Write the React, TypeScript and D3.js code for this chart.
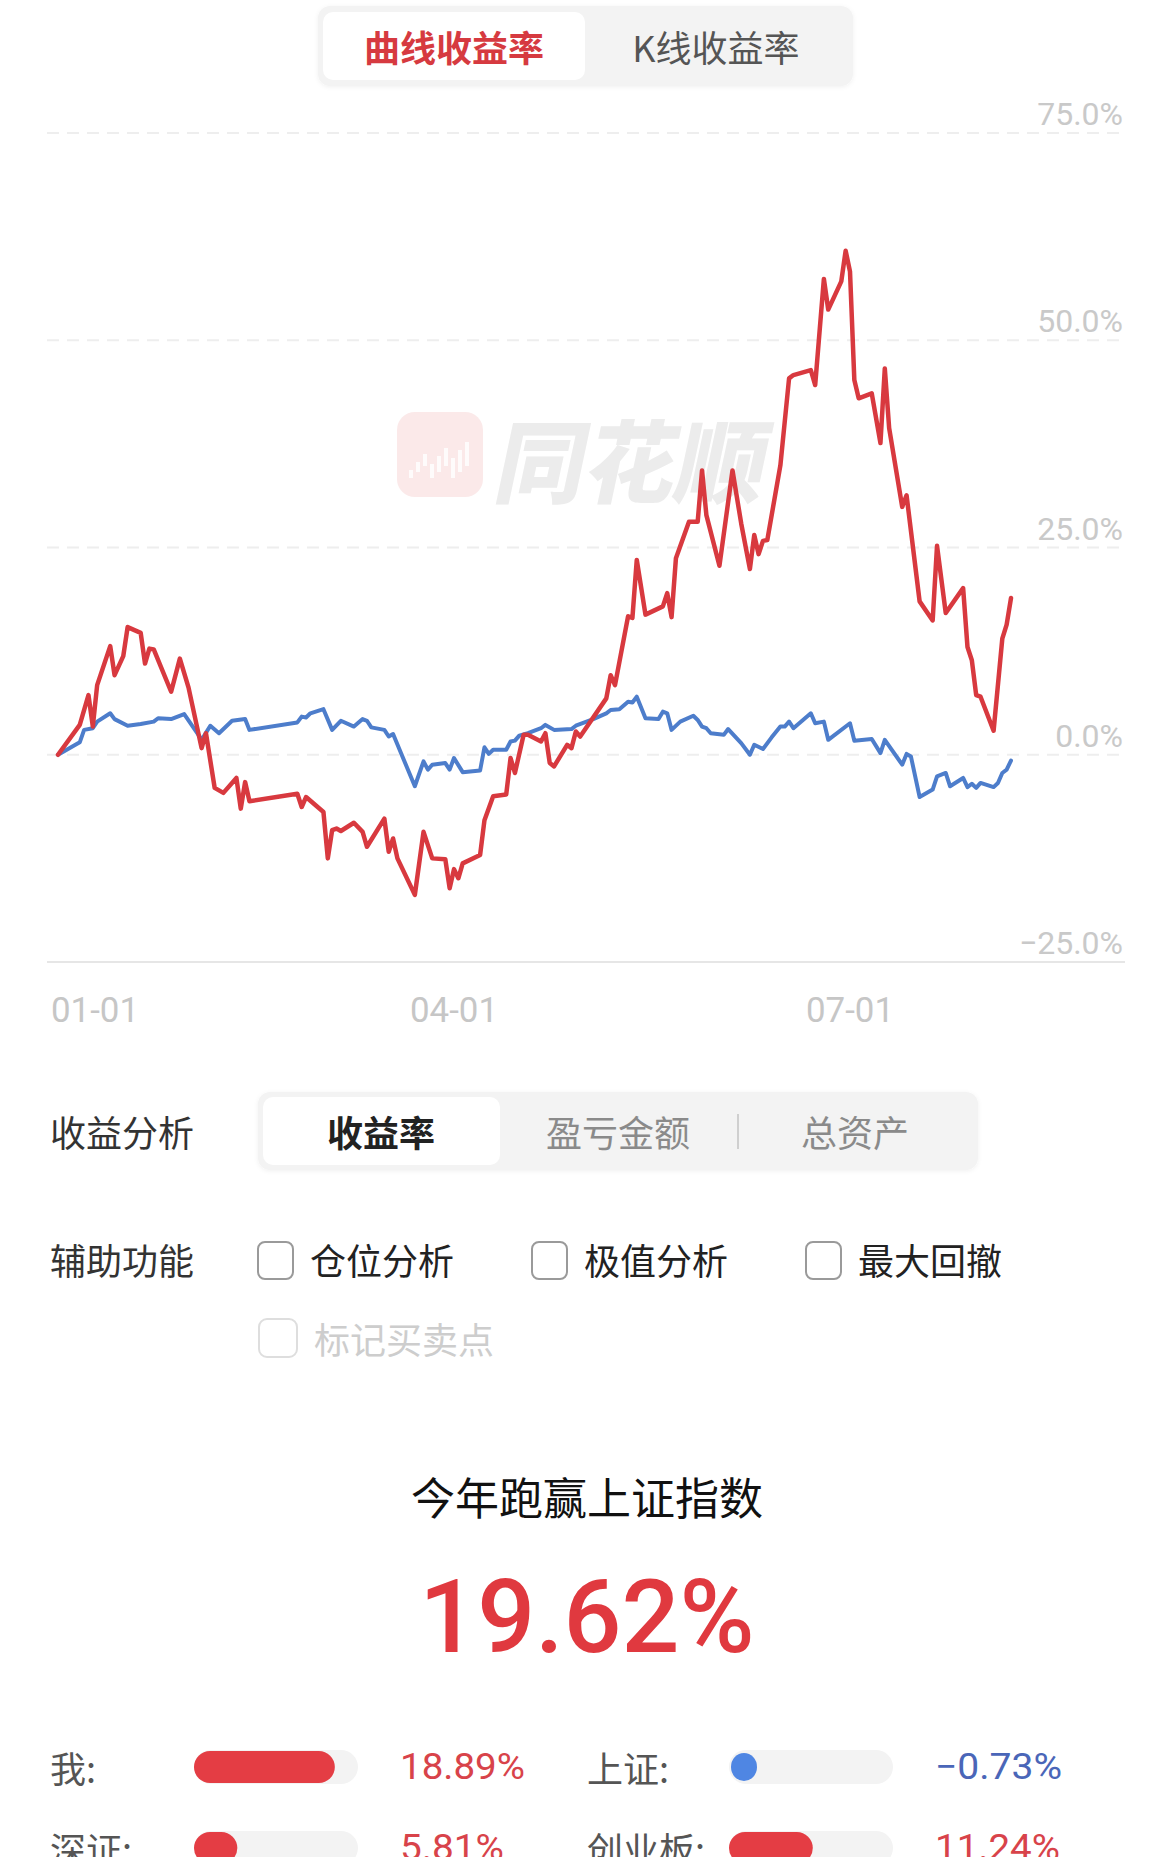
import React from "react";
import * as d3 from "d3";

// ---------- data ----------
const startDate = new Date(2024, 0, 1);
const endDayOffset = 219;

// [trading day offset from 01-01, cumulative return %]
const mySeries: [number, number][] = [[0,0],[5,3.6],[7,7.2],[8,3.4],[9,8.4],[12,13.1],[13,9.6],[15,11.9],[16,15.4],[19,14.7],[20,11.0],[21,12.8],[22,12.7],[26,7.6],[28,11.6],[30,8.1],[33,0.8],[34,2.6],[36,-4.0],[38,-4.6],[41,-2.8],[42,-6.5],[43,-3.3],[44,-5.6],[55,-4.7],[56,-6.3],[57,-5.1],[61,-6.9],[62,-12.5],[63,-9.1],[64,-8.9],[65,-9.2],[68,-8.2],[70,-9.3],[71,-11.1],[75,-7.7],[76,-11.7],[77,-10.1],[78,-12.5],[82,-16.9],[84,-9.3],[86,-12.5],[89,-12.6],[90,-16.1],[91,-13.8],[92,-14.9],[93,-13.1],[97,-12.1],[98,-7.9],[100,-5.0],[103,-4.8],[104,-0.4],[105,-2.2],[107,2.4],[108,2.4],[111,1.6],[112,2.6],[113,-1.0],[114,-1.4],[117,1.2],[118,0.8],[119,2.8],[120,2.2],[126,6.8],[127,9.6],[128,8.4],[131,16.7],[132,16.5],[133,23.5],[135,16.9],[139,17.9],[140,19.5],[141,16.6],[142,23.7],[145,28.1],[147,28.1],[148,34.3],[149,28.9],[152,22.8],[155,34.3],[157,27.9],[159,22.4],[160,26.5],[161,24.2],[162,25.8],[163,25.9],[166,34.9],[168,45.4],[169,45.8],[173,46.4],[174,44.6],[176,57.4],[177,53.7],[180,57.1],[181,60.8],[182,58.3],[183,45.2],[184,43.0],[187,43.6],[189,37.6],[190,46.6],[191,39.4],[194,29.9],[195,31.3],[198,18.5],[201,16.2],[202,25.2],[204,17.1],[208,20.1],[209,13.0],[210,11.4],[211,7.2],[212,7.0],[215,2.9],[217,14.0],[218,15.7],[219,18.9]];

const shIndexSeries: [number, number][] = [[0,0],[5,1.5],[6,3.0],[8,3.2],[9,4.0],[12,5.0],[13,4.3],[16,3.5],[19,3.7],[22,4.0],[23,4.4],[26,4.3],[29,4.9],[32,2.6],[33,1.8],[35,3.5],[37,2.6],[40,4.1],[43,4.3],[44,3.0],[55,3.9],[56,4.6],[57,4.5],[58,5.0],[61,5.5],[63,3.0],[65,4.1],[68,3.4],[70,4.3],[71,4.1],[72,3.3],[75,3.0],[76,2.2],[77,2.5],[82,-3.8],[84,-0.8],[85,-1.8],[86,-1.2],[89,-1.0],[90,-1.8],[91,-0.4],[93,-2.1],[97,-1.9],[98,0.9],[99,0.1],[100,0.6],[103,0.6],[104,1.6],[105,1.7],[106,2.3],[108,2.6],[111,3.2],[112,3.6],[114,3.0],[118,3.1],[119,3.5],[121,3.9],[123,4.3],[126,5.0],[127,5.4],[129,5.5],[131,6.4],[132,6.3],[133,7.0],[135,4.4],[138,4.3],[139,5.2],[140,5.0],[141,3.0],[143,4.0],[146,4.7],[147,4.2],[148,3.4],[149,3.2],[150,2.6],[153,2.4],[154,3.1],[157,1.4],[159,0.0],[160,1.2],[162,0.7],[164,2.1],[166,3.4],[167,3.4],[168,4.0],[169,3.2],[173,5.0],[174,3.8],[176,4.0],[177,1.8],[182,3.8],[183,1.7],[187,1.9],[189,0.2],[190,1.8],[194,-1.2],[195,0.1],[196,-0.2],[198,-5.1],[201,-4.2],[202,-2.6],[204,-2.2],[205,-3.8],[208,-2.8],[209,-3.9],[210,-3.5],[211,-4.0],[212,-3.4],[215,-3.9],[216,-3.4],[217,-2.2],[218,-1.8],[219,-0.7]];

const yTicks = [-25, 0, 25, 50, 75];
const xTickDates = [new Date(2024, 0, 1), new Date(2024, 3, 1), new Date(2024, 6, 1)];

const topTabs = ["曲线收益率", "K线收益率"];
const analysisTabs = ["收益率", "盈亏金额", "总资产"];
const helperOptions = ["仓位分析", "极值分析", "最大回撤"];
const disabledOption = "标记买卖点";

const beatTitle = "今年跑赢上证指数";
const beatValue = 19.62;

const compareNames = ["我:", "上证:", "深证:", "创业板:"];
const compareValues = [18.89, -0.73, 5.81, 11.24];

// ---------- styles ----------
const RED = "#d8393f";
const BLUE = "#4d7dcb";
const CJK = "'Noto Sans CJK SC', 'Noto Sans', sans-serif";
const NUM = "Roboto, 'Noto Sans', sans-serif";

export default function App() {
  const x = d3
    .scaleTime()
    .domain([startDate, d3.timeDay.offset(startDate, endDayOffset)])
    .range([58, 1011]);
  const y = d3.scaleLinear().domain([-25, 75]).range([962, 133]);

  const line = d3
    .line<[number, number]>()
    .x((d) => x(d3.timeDay.offset(startDate, d[0])))
    .y((d) => y(d[1]));

  const fmtY = (v: number) => d3.format(".1f")(v) + "%";
  const fmtX = d3.timeFormat("%m-%d");
  const fmtPct = (v: number) => d3.format(".2f")(v) + "%";

  const barScale = d3.scaleLinear().domain([0, 22]).range([0, 164]);

  const gridLeft = 47;
  const gridRight = 1125;

  const analysisX = [381, 618, 855];
  const helperBoxX = [258, 532, 806];

  const rows = [
    { i: 0, lx: 50, bx: 194, vx: 400, y: 1767 },
    { i: 1, lx: 587, bx: 729, vx: 935, y: 1767 },
    { i: 2, lx: 50, bx: 194, vx: 400, y: 1848 },
    { i: 3, lx: 587, bx: 729, vx: 935, y: 1848 },
  ];

  return (
    <svg
      width={1170}
      height={1857}
      style={{ position: "absolute", left: 0, top: 0, background: "#fff" }}
    >
      <defs>
        <filter id="sh" x="-5%" y="-20%" width="110%" height="140%">
          <feDropShadow dx="0" dy="1" stdDeviation="2" floodColor="#000" floodOpacity="0.06" />
        </filter>
      </defs>
      <rect x={0} y={0} width={1170} height={1857} fill="#fff" />

      {/* top tabs */}
      <rect x={318} y={6} width={535} height={80} rx={12} fill="#f3f3f3" filter="url(#sh)" />
      <rect x={323} y={12} width={262} height={68} rx={10} fill="#fff" />
      <text x={454} y={46} textAnchor="middle" dominantBaseline="central" fontFamily={CJK} fontSize={36} fontWeight={700} fill="#d63a40">
        {topTabs[0]}
      </text>
      <text x={716} y={46} textAnchor="middle" dominantBaseline="central" fontFamily={CJK} fontSize={36} fill="#555">
        {topTabs[1]}
      </text>

      {/* watermark */}
      <g>
        <rect x={397} y={412} width={86} height={85} rx={18} fill="#fbe9e9" />
        {[0, 1, 2, 3, 4, 5, 6, 7, 8].map((k) => (
          <rect key={k} x={409 + k * 7} y={470 - (k % 3) * 6 - k * 2} width={4} height={8 + k * 2} fill="#fff" opacity={0.8} />
        ))}
        <g transform="translate(500,456) skewX(-12)">
          <text x={0} y={0} dominantBaseline="central" fontFamily={CJK} fontSize={90} fontWeight={900} fill="#ececec">
            同花顺
          </text>
        </g>
      </g>

      {/* grid */}
      {yTicks.map((t) => (
        <g key={t}>
          <line
            x1={gridLeft}
            x2={gridRight}
            y1={y(t)}
            y2={y(t)}
            stroke={t === -25 ? "#e6e6e6" : "#eeeeee"}
            strokeWidth={2}
            strokeDasharray={t === -25 ? undefined : "12 8"}
          />
          <text x={1123} y={y(t) - 8} textAnchor="end" fontFamily={NUM} fontSize={32} fill="#c9c9c9">
            {fmtY(t)}
          </text>
        </g>
      ))}

      {/* x labels */}
      {xTickDates.map((d) => (
        <text
          key={d.getTime()}
          x={Math.max(x(d), 95)}
          y={1022}
          textAnchor="middle"
          fontFamily={NUM}
          fontSize={35}
          fill="#c6c6c6"
          textLength={88}
          lengthAdjust="spacingAndGlyphs"
        >
          {fmtX(d)}
        </text>
      ))}

      {/* lines */}
      <path d={line(shIndexSeries) || ""} fill="none" stroke={BLUE} strokeWidth={4} strokeLinejoin="round" strokeLinecap="round" />
      <path d={line(mySeries) || ""} fill="none" stroke={RED} strokeWidth={4.5} strokeLinejoin="round" strokeLinecap="round" />

      {/* 收益分析 */}
      <text x={50} y={1131} dominantBaseline="central" fontFamily={CJK} fontSize={36} fill="#333">
        收益分析
      </text>
      <rect x={258} y={1092} width={720} height={78} rx={12} fill="#f3f3f3" filter="url(#sh)" />
      <rect x={263} y={1097} width={237} height={68} rx={10} fill="#fff" />
      {analysisTabs.map((t, i) => (
        <text
          key={t}
          x={analysisX[i]}
          y={1131}
          textAnchor="middle"
          dominantBaseline="central"
          fontFamily={CJK}
          fontSize={36}
          fontWeight={i === 0 ? 700 : 400}
          fill={i === 0 ? "#222" : "#8a8a8a"}
        >
          {t}
        </text>
      ))}
      <line x1={738} x2={738} y1={1114} y2={1149} stroke="#cfcfcf" strokeWidth={2} />

      {/* 辅助功能 */}
      <text x={50} y={1259} dominantBaseline="central" fontFamily={CJK} fontSize={36} fill="#333">
        辅助功能
      </text>
      {helperOptions.map((t, i) => (
        <g key={t}>
          <rect x={helperBoxX[i]} y={1242} width={35} height={37} rx={7} fill="#fff" stroke="#9a9a9a" strokeWidth={2} />
          <text x={helperBoxX[i] + 52} y={1259} dominantBaseline="central" fontFamily={CJK} fontSize={36} fill="#222">
            {t}
          </text>
        </g>
      ))}
      <rect x={259} y={1319} width={38} height={38} rx={8} fill="#fff" stroke="#dedede" strokeWidth={2} />
      <text x={314} y={1338} dominantBaseline="central" fontFamily={CJK} fontSize={36} fill="#cdcdcd">
        {disabledOption}
      </text>

      {/* summary */}
      <text x={587} y={1496} textAnchor="middle" dominantBaseline="central" fontFamily={CJK} fontSize={44} fill="#111">
        {beatTitle}
      </text>
      <text x={587} y={1652} textAnchor="middle" fontFamily={NUM} fontSize={102} fontWeight={500} fill="#e0393f">
        {fmtPct(beatValue)}
      </text>

      {rows.map((r) => {
        const v = compareValues[r.i];
        const pos = v >= 0;
        const col = pos ? "#e43d44" : "#4f86e3";
        const w = Math.max(barScale(Math.abs(v)), pos ? 30 : 26);
        const h = pos ? 32 : 28;
        return (
          <g key={r.i}>
            <text x={r.lx} y={r.y} dominantBaseline="central" fontFamily={CJK} fontSize={36} fill="#555">
              {compareNames[r.i]}
            </text>
            <rect x={r.bx} y={r.y - 17} width={164} height={34} rx={17} fill="#f3f3f3" />
            <rect x={r.bx + (pos ? 0 : 2)} y={r.y - h / 2} width={w} height={h} rx={h / 2} fill={col} />
            <text x={r.vx} y={r.y} dominantBaseline="central" fontFamily={NUM} fontSize={36} fill={pos ? "#d8434a" : "#4a66b8"} textLength={r.i === 1 ? 127 : r.i === 2 ? 104 : 125} lengthAdjust="spacingAndGlyphs">
              {(v < 0 ? "−" : "") + d3.format(".2f")(Math.abs(v)) + "%"}
            </text>
          </g>
        );
      })}
    </svg>
  );
}
